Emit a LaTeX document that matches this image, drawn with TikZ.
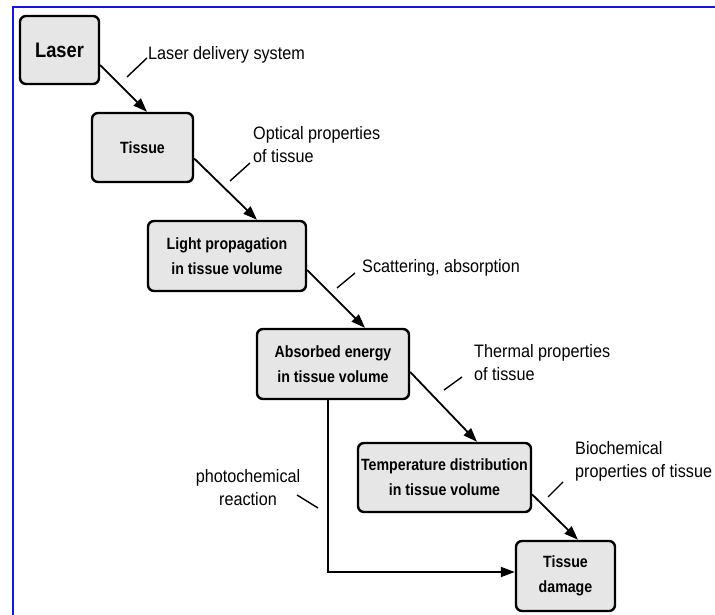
\documentclass[tikz,border=0pt]{standalone}
\usepackage{fontspec}
\setmainfont{Liberation Sans}
\newfontfamily\labfont[FakeStretch=0.9]{Liberation Sans}
\newfontfamily\boxfont[FakeStretch=0.87]{Liberation Sans}
\usetikzlibrary{arrows.meta}
\definecolor{frameblue}{RGB}{20,20,240}
\definecolor{boxfill}{RGB}{230,230,230}
\begin{document}
\begin{tikzpicture}[x=1pt,y=-1pt,
  box/.style={draw=black, line width=2.4pt, rounded corners=6pt, fill=boxfill,
    inner sep=0pt, align=center, font=\boxfont\bfseries\fontsize{16.3}{25}\selectfont},
  arr/.style={line width=1.8pt, -{Triangle[length=14pt,width=10pt]}},
  lead/.style={line width=1.4pt},
  lab/.style={font=\labfont\fontsize{18}{23}\selectfont, inner sep=0pt, align=left}]
\useasboundingbox (0,0) rectangle (715,615);
\fill[white] (0,0) rectangle (715,615);
\draw[frameblue, line width=2.6pt] (13,616) -- (13,7) -- (716,7);

% boxes
\node[box, minimum width=79pt, minimum height=68pt] (laser) at (59.5,50)
  {\fontsize{21}{24}\selectfont Laser};
\node[box, minimum width=101pt, minimum height=69pt] (tissue) at (142.5,147.5) {Tissue};
\node[box, minimum width=158pt, minimum height=70pt] (light) at (227,256)
  {Light propagation\\in tissue volume};
\node[box, minimum width=152pt, minimum height=70pt] (absorb) at (333,364)
  {Absorbed energy\\in tissue volume};
\node[box, minimum width=173pt, minimum height=69pt] (temp) at (444.5,477.5)
  {Temperature distribution\\in tissue volume};
\node[box, minimum width=99pt, minimum height=70pt] (damage) at (565.5,576)
  {Tissue\\damage};

% arrows
\draw[arr] ([yshift=-15pt]laser.east) -- ([xshift=4.5pt]tissue.north);
\draw[arr] ([yshift=-11pt]tissue.east) -- ([xshift=30pt]light.north);
\draw[arr] ([yshift=-14pt]light.east) -- ([xshift=32pt]absorb.north);
\draw[arr] ([yshift=-8pt]absorb.east) -- ([xshift=32.5pt]temp.north);
\draw[arr] ([yshift=-17pt]temp.east) -- ([xshift=12.5pt]damage.north);
\draw[arr] ([xshift=-5pt]absorb.south) |- ([yshift=4pt]damage.west);

% labels (base anchor = baseline of the last line)
\node[lab, anchor=base west] (l1) at (148,60) {Laser delivery system};
\node[lab, anchor=base west] (l2) at (253,163) {Optical properties\\of tissue};
\node[lab, anchor=base west] (l3) at (362,272) {Scattering, absorption};
\node[lab, anchor=base west] (l4) at (474,380) {Thermal properties\\of tissue};
\node[lab, anchor=base west] (l5) at (575,477) {Biochemical\\properties of tissue};
\node[lab, anchor=base, align=center] (l6) at (248,505) {photochemical\\reaction};

% leader lines
\coordinate (a1) at (127,77);  \coordinate (b1) at (147,58);
\coordinate (a2) at (230,181); \coordinate (b2) at (250,163);
\coordinate (a3) at (337,288); \coordinate (b3) at (355,273);
\coordinate (a4) at (444,390); \coordinate (b4) at (462,377);
\coordinate (a5) at (548,497); \coordinate (b5) at (563,482);
\coordinate (a6) at (297,495); \coordinate (b6) at (318,508);
\draw[lead] (a1) -- (b1);
\draw[lead] (a2) -- (b2);
\draw[lead] (a3) -- (b3);
\draw[lead] (a4) -- (b4);
\draw[lead] (a5) -- (b5);
\draw[lead] (a6) -- (b6);
\end{tikzpicture}
\end{document}
